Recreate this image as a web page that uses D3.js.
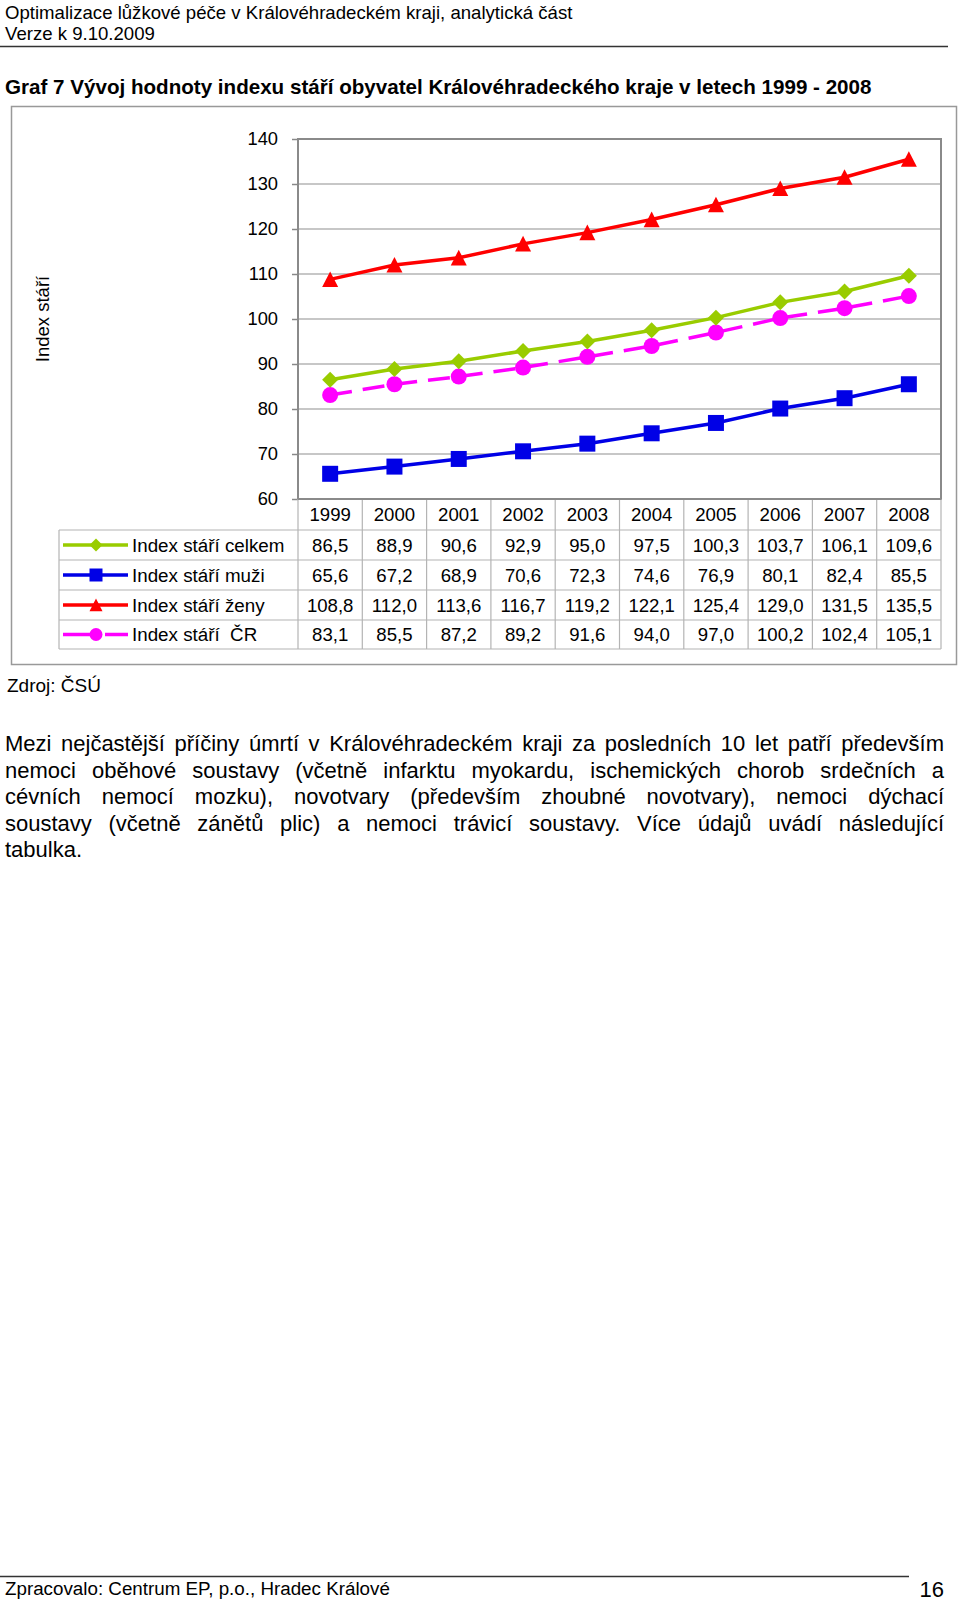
<!DOCTYPE html>
<html><head><meta charset="utf-8">
<script src="https://cdn.jsdelivr.net/npm/d3@7"></script>
<style>
html,body{margin:0;padding:0;background:#fff;}
body{width:960px;height:1605px;position:relative;overflow:hidden;font-family:"Liberation Sans",Arial,sans-serif;color:#000;}
.para{position:absolute;left:5px;width:939px;top:731px;font-size:22px;line-height:26.5px;}
.para div{text-align:justify;text-align-last:justify;white-space:nowrap;}
.para div.last{text-align-last:left;}
svg{position:absolute;left:0;top:0;}
</style></head>
<body>
<svg id="chart" width="960" height="1605"></svg>
<div class="para" id="para"></div>
<script>
const years = ["1999","2000","2001","2002","2003","2004","2005","2006","2007","2008"];
const celkem = [86.5, 88.9, 90.6, 92.9, 95.0, 97.5, 100.3, 103.7, 106.1, 109.6];
const muzi = [65.6, 67.2, 68.9, 70.6, 72.3, 74.6, 76.9, 80.1, 82.4, 85.5];
const zeny = [108.8, 112.0, 113.6, 116.7, 119.2, 122.1, 125.4, 129.0, 131.5, 135.5];
const cr = [83.1, 85.5, 87.2, 89.2, 91.6, 94.0, 97.0, 100.2, 102.4, 105.1];
const seriesNames = ["Index stáří celkem","Index stáří muži","Index stáří ženy","Index stáří  ČR"];
const yTicks = [60,70,80,90,100,110,120,130,140];
const paraLines = [
 "Mezi nejčastější příčiny úmrtí v Královéhradeckém kraji za posledních 10 let patří především",
 "nemoci oběhové soustavy (včetně infarktu myokardu, ischemických chorob srdečních a",
 "cévních nemocí mozku), novotvary (především zhoubné novotvary), nemoci dýchací",
 "soustavy (včetně zánětů plic) a nemoci trávicí soustavy. Více údajů uvádí následující",
 "tabulka."
];

const series = [
  {name: seriesNames[0], values: celkem, color: "#99cc00", marker: "diamond", dash: null},
  {name: seriesNames[1], values: muzi, color: "#0000e6", marker: "square", dash: null},
  {name: seriesNames[2], values: zeny, color: "#ff0000", marker: "triangle", dash: null},
  {name: seriesNames[3], values: cr, color: "#ff00ff", marker: "circle", dash: "22,11"}
];

const svg = d3.select("#chart");
const font = '"Liberation Sans",Arial,sans-serif';

// Page header
svg.append("text").attr("x",5).attr("y",19).attr("font-family",font).attr("font-size",18.6)
  .text("Optimalizace lůžkové péče v Královéhradeckém kraji, analytická část");
svg.append("text").attr("x",5).attr("y",40).attr("font-family",font).attr("font-size",18.6)
  .text("Verze k 9.10.2009");
svg.append("line").attr("x1",0).attr("x2",948).attr("y1",46.5).attr("y2",46.5).attr("stroke","#333").attr("stroke-width",1.5);

// Title
svg.append("text").attr("x",5).attr("y",94).attr("font-family",font).attr("font-size",20.6).attr("font-weight","bold")
  .text("Graf 7 Vývoj hodnoty indexu stáří obyvatel Královéhradeckého kraje v letech 1999 - 2008");

// Chart frame
svg.append("rect").attr("x",11.5).attr("y",106.5).attr("width",945).attr("height",558).attr("fill","none").attr("stroke","#999").attr("stroke-width",1.5);

const plotL = 298, plotR = 941, plotT = 139, plotB = 499;
const x = d3.scaleBand().domain(years).range([plotL, plotR]);
const y = d3.scaleLinear().domain([60,140]).range([plotB, plotT]);
const cx = d => x(d) + x.bandwidth()/2;

// gridlines
svg.append("g").selectAll("line").data(yTicks.slice(1)).join("line")
  .attr("x1",plotL).attr("x2",plotR).attr("y1",d=>y(d)).attr("y2",d=>y(d))
  .attr("stroke","#b4b4b4").attr("stroke-width",1.5);

// y axis
const yAxis = svg.append("g").attr("transform",`translate(${plotL},0)`)
  .call(d3.axisLeft(y).tickValues(yTicks).tickSize(6).tickPadding(14));
yAxis.select(".domain").remove();
yAxis.selectAll(".tick line").attr("stroke","#888").attr("stroke-width",1.5);
yAxis.selectAll(".tick text").attr("font-family",font).attr("font-size",18.3).attr("fill","#000");

// plot border
svg.append("rect").attr("x",plotL).attr("y",plotT).attr("width",plotR-plotL).attr("height",plotB-plotT)
  .attr("fill","none").attr("stroke","#8a8a8a").attr("stroke-width",2);

// y title
svg.append("text").attr("transform","translate(49,319) rotate(-90)").attr("text-anchor","middle")
  .attr("font-family",font).attr("font-size",18.5).text("Index stáří");

// markers
function markerPath(type, s){
  const h = s/2;
  if(type==="diamond") return `M0,${-h}L${h},0L0,${h}L${-h},0Z`;
  if(type==="square") return `M${-h},${-h}H${h}V${h}H${-h}Z`;
  if(type==="triangle") return `M0,${-h}L${h},${h*0.95}L${-h},${h*0.95}Z`;
  return `M${h},0A${h},${h},0,1,1,${-h},0A${h},${h},0,1,1,${h},0Z`;
}

const line = d3.line().x((d,i)=>cx(years[i])).y(d=>y(d));
const order = [1,3,0,2];
order.forEach(k=>{
  const s = series[k];
  const g = svg.append("g");
  g.append("path").attr("d",line(s.values)).attr("fill","none").attr("stroke",s.color)
    .attr("stroke-width",3.5).attr("stroke-dasharray",s.dash);
  g.selectAll("path.m").data(s.values).join("path").attr("class","m")
    .attr("transform",(d,i)=>`translate(${cx(years[i])},${y(d)})`)
    .attr("d",markerPath(s.marker,16)).attr("fill",s.color);
});

// data table
const headT = plotB, headB = 530;
const rowYs = [530,560,590,620,649];
const legL = 59;
const tg = svg.append("g");
const bounds = years.map(d=>x(d)).concat([plotR]);
tg.selectAll("line.v").data(bounds).join("line").attr("class","v")
  .attr("x1",d=>d).attr("x2",d=>d).attr("y1",headT).attr("y2",rowYs[4])
  .attr("stroke","#b4b4b4").attr("stroke-width",1.2);
tg.selectAll("line.h").data(rowYs).join("line").attr("class","h")
  .attr("x1",legL).attr("x2",plotR).attr("y1",d=>d).attr("y2",d=>d)
  .attr("stroke","#b4b4b4").attr("stroke-width",1.2);
tg.append("line").attr("x1",legL).attr("x2",legL).attr("y1",rowYs[0]).attr("y2",rowYs[4])
  .attr("stroke","#b4b4b4").attr("stroke-width",1.2);
svg.append("line").attr("x1",plotL).attr("x2",plotR).attr("y1",plotB).attr("y2",plotB).attr("stroke","#8a8a8a").attr("stroke-width",2);

tg.selectAll("text.yr").data(years).join("text").attr("class","yr")
  .attr("x",d=>cx(d)).attr("y",(headT+headB)/2).attr("dy","0.35em").attr("text-anchor","middle")
  .attr("font-family",font).attr("font-size",18.6).text(d=>d);

const fmt = v => d3.format(".1f")(v).replace(".",",");
series.forEach((s,k)=>{
  const rc = (rowYs[k]+rowYs[k+1])/2;
  tg.selectAll(null).data(s.values).join("text")
    .attr("x",(d,i)=>cx(years[i])).attr("y",rc).attr("dy","0.35em").attr("text-anchor","middle")
    .attr("font-family",font).attr("font-size",18.6).text(d=>fmt(d));
  tg.append("line").attr("x1",63).attr("x2",128).attr("y1",rc).attr("y2",rc)
    .attr("stroke",s.color).attr("stroke-width",3.5).attr("stroke-dasharray",s.dash ? "33,9" : null);
  tg.append("path").attr("transform",`translate(96,${rc})`).attr("d",markerPath(s.marker,13)).attr("fill",s.color);
  tg.append("text").attr("x",132).attr("y",rc).attr("dy","0.35em").attr("font-family",font).attr("font-size",18.8).attr("xml:space","preserve").text(s.name);
});

// source
svg.append("text").attr("x",7).attr("y",692).attr("font-family",font).attr("font-size",19).text("Zdroj: ČSÚ");

// paragraph
d3.select("#para").selectAll("div").data(paraLines).join("div")
  .attr("class",(d,i)=>i===paraLines.length-1?"last":null).text(d=>d);

// footer
svg.append("line").attr("x1",0).attr("x2",909).attr("y1",1576.5).attr("y2",1576.5).attr("stroke","#333").attr("stroke-width",1.5);
svg.append("text").attr("x",5).attr("y",1595).attr("font-family",font).attr("font-size",18.8)
  .text("Zpracovalo: Centrum EP, p.o., Hradec Králové");
svg.append("text").attr("x",944).attr("y",1597).attr("text-anchor","end").attr("font-family",font).attr("font-size",22)
  .text("16");
</script>
</body></html>
